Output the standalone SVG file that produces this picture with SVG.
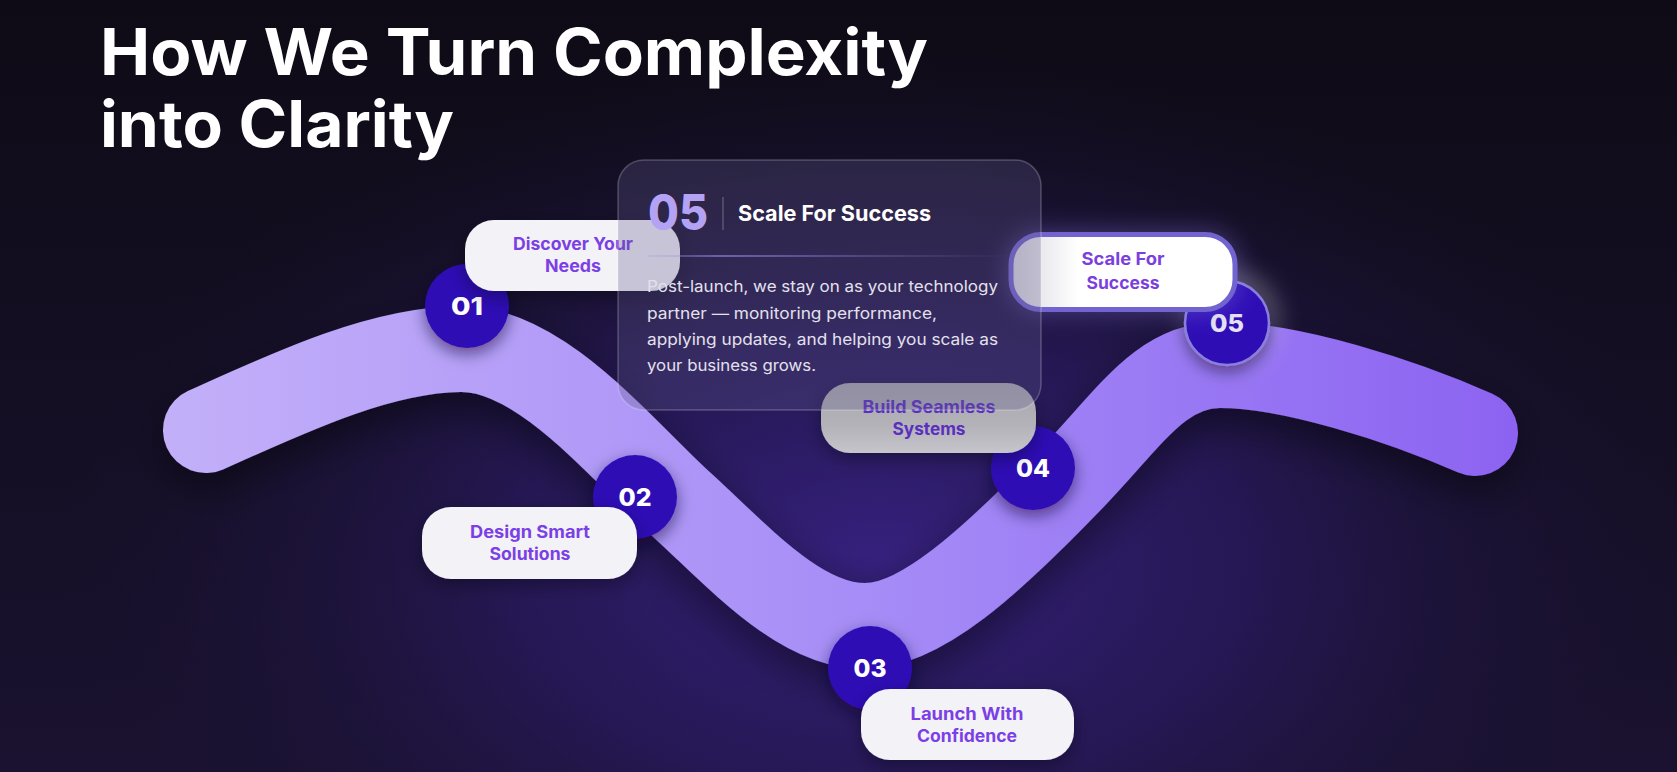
<svg xmlns="http://www.w3.org/2000/svg" width="1677" height="772" viewBox="0 0 1677 772">
<defs>
  <linearGradient id="bgBase" x1="0" y1="0" x2="0" y2="1">
    <stop offset="0" stop-color="#0e0b16"/>
    <stop offset="1" stop-color="#1a1230"/>
  </linearGradient>
  <radialGradient id="bgGlow" gradientUnits="userSpaceOnUse" cx="880" cy="560" r="820" gradientTransform="translate(880 560) scale(1 0.62) translate(-880 -560)">
    <stop offset="0" stop-color="#36217e" stop-opacity="1"/>
    <stop offset="0.45" stop-color="#2a1a62" stop-opacity="0.75"/>
    <stop offset="1" stop-color="#1a1230" stop-opacity="0"/>
  </radialGradient>
  <linearGradient id="bandGrad" gradientUnits="userSpaceOnUse" x1="160" y1="0" x2="1520" y2="0">
    <stop offset="0" stop-color="#c3b0f9"/>
    <stop offset="0.5" stop-color="#a78ef7"/>
    <stop offset="1" stop-color="#8c63f1"/>
  </linearGradient>
  <linearGradient id="sepGrad" gradientUnits="userSpaceOnUse" x1="647" y1="0" x2="1010" y2="0">
    <stop offset="0" stop-color="#a08cf0" stop-opacity="0.25"/>
    <stop offset="0.2" stop-color="#a08cf0" stop-opacity="0.75"/>
    <stop offset="1" stop-color="#a08cf0" stop-opacity="0"/>
  </linearGradient>
  <linearGradient id="pill5Grad" x1="0" y1="0" x2="1" y2="0">
    <stop offset="0" stop-color="#d8d7de"/>
    <stop offset="0.3" stop-color="#ffffff"/>
    <stop offset="1" stop-color="#ffffff"/>
  </linearGradient>
  <linearGradient id="pill4Grad" x1="0" y1="0" x2="0" y2="1">
    <stop offset="0" stop-color="#a8a7ae"/>
    <stop offset="0.6" stop-color="#b3b2b9"/>
    <stop offset="1" stop-color="#c6c5cb"/>
  </linearGradient>
  <filter id="bandShadow" x="-10%" y="-30%" width="120%" height="170%">
    <feDropShadow dx="0" dy="16" stdDeviation="20" flood-color="#07030f" flood-opacity="0.45"/>
  </filter>
  <filter id="circleShadow" x="-50%" y="-50%" width="200%" height="200%">
    <feDropShadow dx="0" dy="6" stdDeviation="8" flood-color="#0b0330" flood-opacity="0.55"/>
  </filter>
  <filter id="pillShadow" x="-20%" y="-40%" width="140%" height="180%">
    <feDropShadow dx="0" dy="6" stdDeviation="9" flood-color="#05020c" flood-opacity="0.35"/>
  </filter>
  <filter id="glow" x="-100%" y="-100%" width="300%" height="300%">
    <feGaussianBlur stdDeviation="12"/>
  </filter>
  <style>
    .title { font-family: Inter, "Open Sans", "Liberation Sans", sans-serif; font-weight: 700; font-size: 64px; fill: #ffffff; }
    .num { font-family: Inter, "Open Sans", "Liberation Sans", sans-serif; font-weight: 800; font-size: 24px; fill: #ffffff; text-anchor: middle; }
    .circle { fill: #2d0fb5; filter: url(#circleShadow); }
    .pill { fill: #f3f2f7; filter: url(#pillShadow); }
    .plabel { font-family: Inter, "Open Sans", "Liberation Sans", sans-serif; font-weight: 700; font-size: 17px; fill: #7b3fe6; text-anchor: middle; }
    .para { font-family: Inter, "Open Sans", "Liberation Sans", sans-serif; font-weight: 400; font-size: 15.5px; fill: #e4e1ee; }
  </style>
</defs>

<rect width="1677" height="772" fill="url(#bgBase)"/>
<rect width="1677" height="772" fill="url(#bgGlow)"/>

<text class="title" x="100" y="75" textLength="828" lengthAdjust="spacingAndGlyphs">How We Turn Complexity</text>
<text class="title" x="100" y="147" textLength="354" lengthAdjust="spacingAndGlyphs">into Clarity</text>

<g id="connectors">
  <path d="M 206 430 C 290 392, 380 350, 460 349 C 540 348, 620 448, 682 505 C 740 558, 800 626, 865 626 C 920 626, 990 563, 1070 480 C 1130 418, 1160 365, 1220 365 C 1290 365, 1400 400, 1475 433" fill="none" stroke="url(#bandGrad)" stroke-width="86" stroke-linecap="round" filter="url(#bandShadow)"/>
</g>

<g id="step-01">
  <circle class="circle" cx="467" cy="306" r="42"/>
  <text class="num" x="467" y="315" textLength="32" lengthAdjust="spacingAndGlyphs">01</text>
</g>
<g id="step-02">
  <circle class="circle" cx="635" cy="497" r="42"/>
  <text class="num" x="635" y="506" textLength="33" lengthAdjust="spacingAndGlyphs">02</text>
</g>
<g id="step-03">
  <circle class="circle" cx="870" cy="668" r="42"/>
  <text class="num" x="870" y="677" textLength="33" lengthAdjust="spacingAndGlyphs">03</text>
</g>
<g id="step-04">
  <circle class="circle" cx="1033" cy="468" r="42"/>
  <text class="num" x="1033" y="477" textLength="34" lengthAdjust="spacingAndGlyphs">04</text>
</g>
<g id="step-05">
  <circle cx="1232" cy="318" r="46" fill="#ffffff" opacity="0.3" filter="url(#glow)"/>
  <circle class="circle" cx="1227" cy="323" r="42" stroke="#8a7fdc" stroke-width="2.5"/>
  <text class="num" x="1227" y="332" textLength="34" lengthAdjust="spacingAndGlyphs" style="fill:#e6e4f2">05</text>
</g>

<g id="pill-01">
  <rect class="pill" x="465" y="220" width="215" height="71" rx="29"/>
  <text class="plabel" x="573" y="250" textLength="120" lengthAdjust="spacingAndGlyphs">Discover Your</text>
  <text class="plabel" x="573" y="272" textLength="56" lengthAdjust="spacingAndGlyphs">Needs</text>
</g>
<g id="pill-02">
  <rect class="pill" x="422" y="507" width="215" height="72" rx="29"/>
  <text class="plabel" x="530" y="538" textLength="120" lengthAdjust="spacingAndGlyphs">Design Smart</text>
  <text class="plabel" x="530" y="560" textLength="81" lengthAdjust="spacingAndGlyphs">Solutions</text>
</g>
<g id="pill-03">
  <rect class="pill" x="861" y="689" width="213" height="71" rx="29"/>
  <text class="plabel" x="967" y="720" textLength="113" lengthAdjust="spacingAndGlyphs">Launch With</text>
  <text class="plabel" x="967" y="742" textLength="100" lengthAdjust="spacingAndGlyphs">Confidence</text>
</g>
<g id="pill-04">
  <rect x="821" y="383" width="215" height="70" rx="29" fill="url(#pill4Grad)" filter="url(#pillShadow)"/>
  <text class="plabel" x="929" y="413" textLength="133" lengthAdjust="spacingAndGlyphs" style="fill:#5a2fc0">Build Seamless</text>
  <text class="plabel" x="929" y="435" textLength="73" lengthAdjust="spacingAndGlyphs" style="fill:#5a2fc0">Systems</text>
</g>
<g id="pill-05">
  <rect x="1006" y="230" width="234" height="84" rx="34" fill="#8f7fe8" opacity="0.35" filter="url(#glow)"/>
  <rect x="1011" y="234.5" width="224" height="75" rx="30" fill="url(#pill5Grad)" stroke="#7264d0" stroke-width="5"/>
  <text class="plabel" x="1123" y="265" textLength="83" lengthAdjust="spacingAndGlyphs" style="fill:#7b3fe0">Scale For</text>
  <text class="plabel" x="1123" y="289" textLength="73" lengthAdjust="spacingAndGlyphs" style="fill:#7b3fe0">Success</text>
</g>

<g id="detail-card">
  <rect x="618" y="160" width="423" height="250" rx="26" fill="#5f5a8c" fill-opacity="0.3" stroke="#ffffff" stroke-opacity="0.22" stroke-width="1.5"/>
  <text x="648" y="230" font-family="Inter, 'Open Sans', 'Liberation Sans', sans-serif" font-weight="800" font-size="50" fill="#b4a2f4" textLength="60" lengthAdjust="spacingAndGlyphs">05</text>
  <line x1="723" y1="197" x2="723" y2="230" stroke="#ffffff" stroke-opacity="0.22" stroke-width="1.5"/>
  <text x="738" y="221" font-family="Inter, 'Open Sans', 'Liberation Sans', sans-serif" font-weight="700" font-size="21" fill="#ffffff" textLength="193" lengthAdjust="spacingAndGlyphs">Scale For Success</text>
  <line x1="647" y1="256" x2="1010" y2="256" stroke="url(#sepGrad)" stroke-width="1.5"/>
  <text class="para" x="647" y="292" textLength="351" lengthAdjust="spacingAndGlyphs">Post-launch, we stay on as your technology</text>
  <text class="para" x="647" y="319" textLength="290" lengthAdjust="spacingAndGlyphs">partner — monitoring performance,</text>
  <text class="para" x="647" y="345" textLength="351" lengthAdjust="spacingAndGlyphs">applying updates, and helping you scale as</text>
  <text class="para" x="647" y="371" textLength="169" lengthAdjust="spacingAndGlyphs">your business grows.</text>
</g>
</svg>
